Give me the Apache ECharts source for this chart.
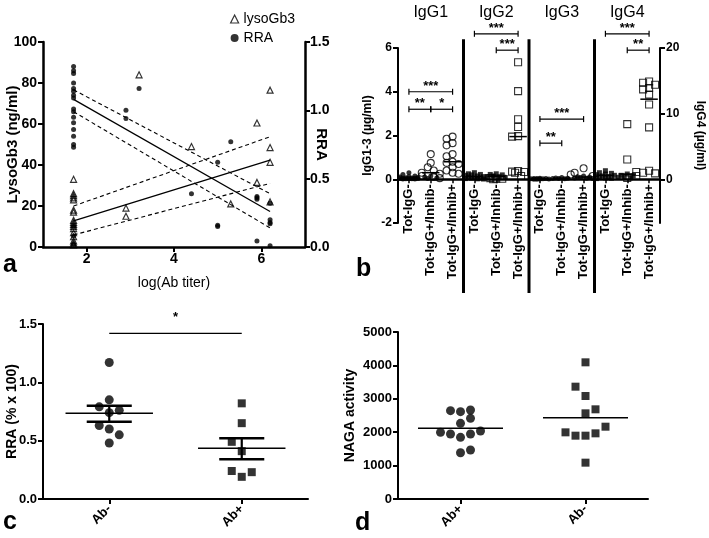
<!DOCTYPE html>
<html><head><meta charset="utf-8">
<script src="https://cdn.jsdelivr.net/npm/echarts@6/dist/echarts.min.js"></script>
<style>html,body{margin:0;padding:0;background:#fff}#c{width:709px;height:538px}</style>
</head><body><div id="c"></div>
<script>
// ===================== DATA =====================
// ---- Panel a ----
const aLegend = ['lysoGb3', 'RRA'];
const aXTicks = [2, 4, 6];
const aLysoGb3 = [[1.7,33],[1.7,26],[1.7,25],[1.7,24],[1.7,23],[1.7,18],[1.7,17],[1.7,13],[1.7,12],[1.7,11],[1.7,10],[1.7,9],[1.7,7],[1.7,5],[1.7,3],[1.7,2],[1.7,1],
  [2.9,19],[2.9,15],[3.2,84],[4.4,49],[5.3,21],[5.9,60.5],[5.9,31.5],[6.2,76.5],[6.2,48.5],[6.2,41.3],[6.2,22]];
const aRRA = [[1.7,1.32],[1.7,1.29],[1.7,1.27],[1.7,1.2],[1.7,1.16],[1.7,1.14],[1.7,1.11],[1.7,1.09],[1.7,1.01],[1.7,0.99],[1.7,0.95],[1.7,0.91],[1.7,0.86],[1.7,0.81],[1.7,0.75],[1.7,0.73],[1.7,0.15],[1.7,0.08],[1.7,0.02],
  [2.9,1.0],[2.9,0.94],[3.2,1.16],[4.4,0.39],[5.0,0.62],[5.0,0.16],[5.0,0.15],[5.3,0.77],[5.9,0.37],[5.9,0.36],[5.9,0.35],[5.9,0.044],[6.2,0.32],[6.2,0.2],[6.2,0.18],[6.2,0.17],[6.2,0.01]];
const aLysoFit   = [[1.7,12.8],[6.2,42.4]];
const aLysoUpper = [[1.7,20.0],[6.2,53.8]];
const aLysoLower = [[1.7,5.9],[6.2,31.0]];
const aRRAFit    = [[1.7,1.08],[6.2,0.26]];
const aRRAUpper  = [[1.7,1.15],[6.2,0.39]];
const aRRALower  = [[1.7,0.99],[6.2,0.14]];

// ---- Panel b ----
const bGroups = ['IgG1','IgG2','IgG3','IgG4'];
const bSubgroups = ['Tot-IgG-','Tot-IgG+/Inhib-','Tot-IgG+/Inhib+'];
const bFilled = [
  [0.3,0.22,0.15,0.12,0.1,0.08,0.07,0.06,0.05,0.05,0.04,0.03,0.03,0.02,0.02,0.01,0.01],
  [0.15,0.1,0.06,0.03],
  [],
  [0.3,0.25,0.22,0.2,0.18,0.15,0.12,0.1,0.08,0.06,0.05,0.03,0.02,0.01],
  [0.25,0.22,0.2,0.15,0.12,0.1,0.08],
  [],
  [0.05,0.04,0.03,0.03,0.02,0.02,0.01,0.01,0.0,0.0],
  [0.08,0.06,0.05,0.04,0.03,0.02],
  [0.15,0.12,0.1,0.08,0.06,0.05,0.03],
  [1.3,1.0,0.9,0.8,0.7,0.6,0.5,0.4,0.3,0.2,0.15,0.1],
  [0.8,0.6,0.5,0.4,0.3,0.2],
  []
];
const bOpen = [
  [],
  [1.15,0.75,0.55,0.4,0.3,0.25,0.15,0.1,0.05],
  [1.95,1.85,1.65,1.55,1.15,1.05,0.8,0.75,0.7,0.55,0.4,0.3,0.25],
  [],
  [0.05,0.03,0.02,0.0],
  [5.35,4.03,2.74,2.39,1.97,1.95,0.38,0.35,0.33,0.3,0.15],
  [],
  [0.22],
  [0.5,0.3,0.15],
  [],
  [8.4,3.0,1.1,0.5,0.2],
  [14.9,14.7,14.4,13.9,13.7,12.9,11.4,7.9,1.3,1.0,0.9]
];
const bMedians = [0.05,0.3,0.8, 0.12,0.12,1.95, 0.03,0.05,0.1, 0.6,0.8,12.2];
const bSig = [[0,2,4.0,'***'],[0,1,3.2,'**'],[1,2,3.2,'*'],[3,5,6.65,'***'],[4,5,5.9,'***'],
  [6,8,2.75,'***'],[6,7,1.65,'**'],[9,11,6.65,'***'],[10,11,5.9,'**']];
const bRightTicks = [0, 10, 20];

// ---- Panel c ----
const cCategories = ['Ab-','Ab+'];
const cAbNeg = [1.17,0.85,0.79,0.76,0.74,0.63,0.60,0.55,0.48];
const cAbPos = [0.82,0.65,0.49,0.41,0.24,0.23,0.19];
const cMean = [0.734, 0.434];
const cSemLow = [0.662, 0.34];
const cSemHigh = [0.80, 0.52];
const cSig = [[0, 1, 1.42, '*']];

// ---- Panel d ----
const dCategories = ['Ab+','Ab-'];
const dAbPos = [2644,2614,2665,2415,2266,1996,1946,1846,1946,2036,1386,1467];
const dAbNeg = [4092,3363,3084,2685,2565,2165,1966,1996,1896,1896,1088];
const dMedian = [2116, 2435];

// ===================== LAYOUT / STYLE =====================
const SANS = "'Liberation Sans',Arial,sans-serif";
const K = '#000';
const cJitNeg = [0,0,-10,10,0,-10,0,10,0];
const cJitPos = [0,0,-10,0,-10,10,0];
const dJitPos = [-10,0,10,10,0,-20,-10,0,10,20,0,10];
const dJitNeg = [0,-10,0,10,0,20,10,-20,-10,0,0];
const gridB = {left:398, top:48, width:262, height:175};
const bLeftMin = -2, bLeftMax = 6, bRightMax = 20;
const bRightMin = bRightMax * bLeftMin / bLeftMax;
const sepTop = 6.4, sepBottom = -5.2;
// labels of panel b's category axis sit just under the zero line
const bLabelMargin = 5 - gridB.height * (0 - bLeftMin) / (bLeftMax - bLeftMin);

function swarm(values, pxPerUnit, minDist, step, maxK){
  const placed = [], offs = [];
  values.forEach(v => {
    const y = v * pxPerUnit;
    const cands = [0];
    for (let k = 1; k <= maxK; k++) cands.push(-k*step, k*step);
    let best = 0, bestD = -1;
    for (const c of cands) {
      let d = Infinity;
      placed.forEach(p => { d = Math.min(d, Math.hypot(p[0]-c, p[1]-y)); });
      if (d >= minDist) { best = c; break; }
      if (d > bestD) { bestD = d; best = c; }
    }
    placed.push([best, y]); offs.push(best);
  });
  return offs;
}

// ---- panel b series ----
const bCatLabels = [];
bGroups.forEach(() => bSubgroups.forEach(s => bCatLabels.push(s)));
const bSeries = [];
for (let g = 0; g < bGroups.length; g++) {
  const yIdx = g === 3 ? 3 : 2;
  const ppu = g === 3 ? gridB.height/(bRightMax-bRightMin) : gridB.height/(bLeftMax-bLeftMin);
  const symbol = (g % 2 === 1) ? 'rect' : 'circle';
  const filledData = [], openData = [];
  for (let s = 0; s < 3; s++) {
    const cat = g*3 + s;
    const pts = bFilled[cat].map(v => ({v, f:true})).concat(bOpen[cat].map(v => ({v, f:false})));
    const offs = swarm(pts.map(p => p.v), ppu, 4.5, 3, 3);
    pts.forEach((p, i) => {
      (p.f ? filledData : openData).push({value:[cat, p.v], symbolOffset:[offs[i], 0]});
    });
  }
  bSeries.push({type:'scatter', xAxisIndex:1, yAxisIndex:yIdx, symbol, symbolSize:5, data:filledData,
    itemStyle:{color:K}, z:3, silent:true});
  bSeries.push({type:'scatter', xAxisIndex:1, yAxisIndex:yIdx, symbol, symbolSize:7, data:openData,
    itemStyle:{color:'rgba(255,255,255,0)', borderColor:K, borderWidth:1.1}, z:4, silent:true});
}
function medianRender(list, half, lw){
  return function(params, api){
    const it = list[params.dataIndex];
    const c = api.coord([it[0], it[1]]);
    const bw = api.size([1, 0])[0];
    return {type:'line', shape:{x1:c[0]-bw*half, y1:c[1], x2:c[0]+bw*half, y2:c[1]}, style:{stroke:K, lineWidth:lw}};
  };
}
const bMedLeft = [], bMedRight = [];
bMedians.forEach((m, i) => (i >= 9 ? bMedRight : bMedLeft).push([i, m]));
bSeries.push({type:'custom', xAxisIndex:1, yAxisIndex:2, data:bMedLeft, renderItem:medianRender(bMedLeft, 0.4, 1.5), z:5, silent:true});
bSeries.push({type:'custom', xAxisIndex:1, yAxisIndex:3, data:bMedRight, renderItem:medianRender(bMedRight, 0.4, 1.5), z:5, silent:true});

function bracketRender(list, capped, fs, lift){
  return function(params, api){
    const s = list[params.dataIndex];
    const p1 = api.coord([s[0], s[2]]), p2 = api.coord([s[1], s[2]]);
    const ch = [{type:'line', shape:{x1:p1[0], y1:p1[1], x2:p2[0], y2:p2[1]}, style:{stroke:K, lineWidth:1.2}}];
    if (capped) [p1, p2].forEach(p => ch.push({type:'line', shape:{x1:p[0], y1:p[1]-3, x2:p[0], y2:p[1]+3}, style:{stroke:K, lineWidth:1.2}}));
    ch.push({type:'text', style:{text:s[3], x:(p1[0]+p2[0])/2, y:p1[1]-lift, align:'center', verticalAlign:'bottom',
      fontSize:fs, fontFamily:SANS, fontWeight:'bold', fill:K}});
    return {type:'group', children:ch};
  };
}
bSeries.push({type:'custom', xAxisIndex:1, yAxisIndex:2, data:bSig.map(s => [s[0], s[2]]), clip:false,
  renderItem:bracketRender(bSig, true, 13, -1), z:6, silent:true});
const bSep = [];
for (let g = 1; g < bGroups.length; g++) bSep.push([g*3-1, g*3]);
bSeries.push({type:'custom', xAxisIndex:1, yAxisIndex:2, data:bSep.map(s => [s[0], 0]), clip:false, z:6, silent:true,
  renderItem: function(params, api){
    const s = bSep[params.dataIndex];
    const x = (api.coord([s[0], 0])[0] + api.coord([s[1], 0])[0]) / 2;
    const y1 = api.coord([s[0], sepTop])[1], y2 = api.coord([s[0], sepBottom])[1];
    return {type:'line', shape:{x1:x, y1:y1, x2:x, y2:y2}, style:{stroke:K, lineWidth:3}};
  }});

// ---- generic axis helpers ----
function yAx(o){
  return Object.assign({type:'value', axisLine:{show:true, onZero:false, lineStyle:{color:K, width:2}},
    axisTick:{show:true, length:5, lineStyle:{color:K, width:2}}, splitLine:{show:false},
    axisLabel:{color:K, fontFamily:SANS, fontWeight:'bold', fontSize:13, margin:6},
    nameLocation:'middle', nameMoveOverlap:false,
    nameTextStyle:{color:K, fontFamily:SANS, fontWeight:'bold', fontSize:14}}, o);
}
function catAx(o){
  return Object.assign({type:'category', axisLine:{show:true, onZero:false, lineStyle:{color:K, width:2}},
    axisTick:{show:true, alignWithLabel:true, length:5, lineStyle:{color:K, width:2}},
    axisLabel:{rotate:45, interval:0, color:K, fontFamily:SANS, fontWeight:'bold', fontSize:13, margin:8}}, o);
}
function jitter(values, cat, offs){ return values.map((v, i) => ({value:[cat, v], symbolOffset:[offs[i], 0]})); }

const letterStyle = {fontSize:25, fontWeight:'bold', color:K, fontFamily:SANS};
const option = {
  animation:false,
  backgroundColor:'#fff',
  title:[
    {text:'a', left:-2, top:248, textStyle:letterStyle},
    {text:'b', left:351, top:252, textStyle:letterStyle},
    {text:'c', left:-2, top:505, textStyle:letterStyle},
    {text:'d', left:350, top:506, textStyle:letterStyle}
  ],
  legend:{orient:'vertical', left:225, top:7, itemWidth:8, itemHeight:8, itemGap:5,
    textStyle:{fontFamily:SANS, fontSize:14, color:K},
    data:[{name:aLegend[0], icon:'triangle', itemStyle:{color:'rgba(255,255,255,0)', borderColor:K, borderWidth:1.2}},
          {name:aLegend[1], icon:'circle', itemStyle:{color:K}}]},
  grid:[
    {left:43, top:42, width:262, height:205},
    gridB,
    {left:43, top:324, width:265, height:175},
    {left:398, top:332, width:250, height:167}
  ],
  xAxis:[
    {gridIndex:0, type:'value', min:1, max:7,
      axisLine:{show:true, onZero:false, lineStyle:{color:K, width:2.5}},
      axisTick:{show:true, customValues:aXTicks, length:5, lineStyle:{color:K, width:2}},
      axisLabel:{customValues:aXTicks, color:K, fontFamily:SANS, fontWeight:'bold', fontSize:14, margin:5},
      splitLine:{show:false},
      name:'log(Ab titer)', nameLocation:'middle', nameGap:29, nameMoveOverlap:false,
      nameTextStyle:{color:K, fontFamily:SANS, fontSize:14}},
    {gridIndex:1, type:'category', data:bCatLabels,
      axisLine:{show:true, onZero:true, lineStyle:{color:K, width:2.5}},
      axisTick:{show:true, alignWithLabel:true, length:4, lineStyle:{color:K, width:1.5}},
      axisLabel:{rotate:90, interval:0, color:K, fontFamily:SANS, fontWeight:'bold', fontSize:13, margin:bLabelMargin}},
    {gridIndex:1, type:'category', position:'top', data:bGroups,
      axisLine:{show:false, onZero:false}, axisTick:{show:false},
      axisLabel:{interval:0, color:K, fontFamily:SANS, fontSize:16, margin:27}},
    catAx({gridIndex:2, data:cCategories}),
    catAx({gridIndex:3, data:dCategories})
  ],
  yAxis:[
    yAx({gridIndex:0, min:0, max:100, interval:20, axisLine:{show:true, onZero:false, lineStyle:{color:K, width:2.5}},
      axisLabel:{color:K, fontFamily:SANS, fontWeight:'bold', fontSize:14, margin:6},
      name:'LysoGb3 (ng/ml)', nameGap:23, nameTextStyle:{color:K, fontFamily:SANS, fontWeight:'bold', fontSize:15}}),
    yAx({gridIndex:0, position:'right', min:0, max:1.5, interval:0.5, axisLine:{show:true, onZero:false, lineStyle:{color:K, width:2.5}},
      axisLabel:{color:K, fontFamily:SANS, fontWeight:'bold', fontSize:14, margin:5, formatter:v => v.toFixed(1)},
      name:'RRA', nameGap:9, nameRotate:-90, nameTextStyle:{color:K, fontFamily:SANS, fontWeight:'bold', fontSize:15}}),
    yAx({gridIndex:1, min:bLeftMin, max:bLeftMax, interval:2, axisLabel:{color:K, fontFamily:SANS, fontWeight:'bold', fontSize:12, margin:6},
      name:'IgG1-3 (µg/ml)', nameGap:24, nameTextStyle:{color:K, fontFamily:SANS, fontWeight:'bold', fontSize:12}}),
    yAx({gridIndex:1, position:'right', min:bRightMin, max:bRightMax,
      axisTick:{show:true, customValues:bRightTicks, length:5, lineStyle:{color:K, width:2}},
      axisLabel:{customValues:bRightTicks, color:K, fontFamily:SANS, fontWeight:'bold', fontSize:12, margin:6},
      name:'IgG4 (µg/ml)', nameGap:34, nameRotate:-90, nameTextStyle:{color:K, fontFamily:SANS, fontWeight:'bold', fontSize:12}}),
    yAx({gridIndex:2, min:0, max:1.5, interval:0.5, axisLabel:{color:K, fontFamily:SANS, fontWeight:'bold', fontSize:13, margin:6, formatter:v => v.toFixed(1)},
      name:'RRA (% x 100)', nameGap:24}),
    yAx({gridIndex:3, min:0, max:5000, interval:1000,
      axisLabel:{color:K, fontFamily:SANS, fontWeight:'bold', fontSize:13, margin:6, formatter:v => String(v)},
      name:'NAGA activity', nameGap:41})
  ],
  series:[
    // panel a
    {name:aLegend[0], type:'scatter', xAxisIndex:0, yAxisIndex:0, symbol:'triangle', symbolSize:6, data:aLysoGb3,
      itemStyle:{color:'rgba(255,255,255,0)', borderColor:K, borderWidth:1.2}, z:3},
    {name:aLegend[1], type:'scatter', xAxisIndex:0, yAxisIndex:1, symbol:'circle', symbolSize:5, data:aRRA, itemStyle:{color:K}, z:3},
    {type:'line', xAxisIndex:0, yAxisIndex:0, data:aLysoFit, showSymbol:false, lineStyle:{color:K, width:1.3}, silent:true},
    {type:'line', xAxisIndex:0, yAxisIndex:0, data:aLysoUpper, showSymbol:false, lineStyle:{color:K, width:1.1, type:[4,3]}, silent:true},
    {type:'line', xAxisIndex:0, yAxisIndex:0, data:aLysoLower, showSymbol:false, lineStyle:{color:K, width:1.1, type:[4,3]}, silent:true},
    {type:'line', xAxisIndex:0, yAxisIndex:1, data:aRRAFit, showSymbol:false, lineStyle:{color:K, width:1.3}, silent:true},
    {type:'line', xAxisIndex:0, yAxisIndex:1, data:aRRAUpper, showSymbol:false, lineStyle:{color:K, width:1.1, type:[4,3]}, silent:true},
    {type:'line', xAxisIndex:0, yAxisIndex:1, data:aRRALower, showSymbol:false, lineStyle:{color:K, width:1.1, type:[4,3]}, silent:true},
    // panel b
    ...bSeries,
    // panel c
    {type:'scatter', xAxisIndex:3, yAxisIndex:4, symbol:'circle', symbolSize:9, data:jitter(cAbNeg, 0, cJitNeg), itemStyle:{color:K}},
    {type:'scatter', xAxisIndex:3, yAxisIndex:4, symbol:'rect', symbolSize:8, data:jitter(cAbPos, 1, cJitPos), itemStyle:{color:K}},
    {type:'custom', xAxisIndex:3, yAxisIndex:4, data:cMean.map((m, i) => [i, m]), silent:true, z:5,
      renderItem:function(params, api){
        const i = params.dataIndex;
        const c = api.coord([i, cMean[i]]), lo = api.coord([i, cSemLow[i]]), hi = api.coord([i, cSemHigh[i]]);
        const bw = api.size([1, 0])[0];
        const ln = (x1, y1, x2, y2, w) => ({type:'line', shape:{x1, y1, x2, y2}, style:{stroke:K, lineWidth:w}});
        return {type:'group', children:[
          ln(c[0]-bw*0.33, c[1], c[0]+bw*0.33, c[1], 1.5),
          ln(c[0], lo[1], c[0], hi[1], 2.2),
          ln(c[0]-bw*0.17, lo[1], c[0]+bw*0.17, lo[1], 2.5),
          ln(c[0]-bw*0.17, hi[1], c[0]+bw*0.17, hi[1], 2.5)
        ]};
      }},
    {type:'custom', xAxisIndex:3, yAxisIndex:4, data:cSig.map(s => [s[0], s[2]]), clip:false, silent:true,
      renderItem:bracketRender(cSig, false, 13, 9)},
    // panel d
    {type:'scatter', xAxisIndex:4, yAxisIndex:5, symbol:'circle', symbolSize:9, data:jitter(dAbPos, 0, dJitPos), itemStyle:{color:K}},
    {type:'scatter', xAxisIndex:4, yAxisIndex:5, symbol:'rect', symbolSize:8, data:jitter(dAbNeg, 1, dJitNeg), itemStyle:{color:K}},
    {type:'custom', xAxisIndex:4, yAxisIndex:5, data:dMedian.map((m, i) => [i, m]), silent:true, z:5,
      renderItem:medianRender(dMedian.map((m, i) => [i, m]), 0.34, 1.5)}
  ]
};
const chart = echarts.init(document.getElementById('c'), null, {renderer:'canvas'});
chart.setOption(option);
</script>
</body></html>
